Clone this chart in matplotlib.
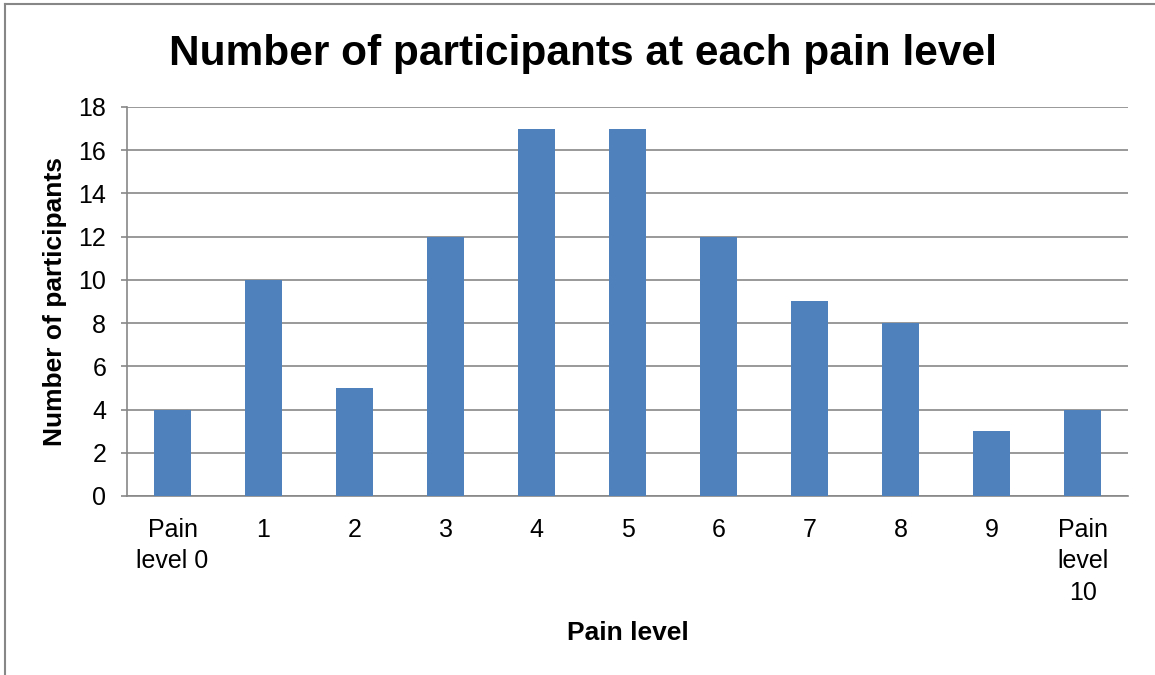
import numpy as np
import matplotlib.pyplot as plt
from matplotlib.lines import Line2D

plt.rcParams['font.family'] = ['Liberation Sans', 'DejaVu Sans']

# data
categories = ['Pain\nlevel 0', '1', '2', '3', '4', '5', '6', '7', '8', '9', 'Pain\nlevel\n10']
counts = [4, 10, 5, 12, 17, 17, 12, 9, 8, 3, 4]
yticks = [0, 2, 4, 6, 8, 10, 12, 14, 16, 18]

fig = plt.figure(figsize=(11.55, 6.75), dpi=100)
ax = fig.add_axes([0.110, 0.2652, 0.8667, 0.5763])

x = np.arange(len(categories))
ax.bar(x, counts, width=0.4, color='#4F81BD', zorder=3)

ax.set_xlim(-0.5, len(categories) - 0.5)
ax.set_ylim(0, 18)
ax.set_yticks(yticks)
ax.set_xticks(x)
ax.set_xticklabels(categories, fontsize=18, linespacing=1.38, va='top')
ax.tick_params(axis='y', labelsize=18, length=4, color='#878787', width=1.2, pad=11)
ax.tick_params(axis='x', length=0, pad=16)
ax.grid(axis='y', color='#878787', linewidth=1.2, zorder=0)

for s in ['top', 'right']:
    ax.spines[s].set_visible(False)
for s in ['left', 'bottom']:
    ax.spines[s].set_color('#878787')
    ax.spines[s].set_linewidth(1.2)

ax.set_title('Number of participants at each pain level', fontsize=30.5,
             fontweight='bold', pad=30, x=0.455)
ax.set_xlabel('Pain level', fontsize=19, fontweight='bold', labelpad=12)
ax.set_ylabel('Number of participants', fontsize=19, fontweight='bold', labelpad=8)

# outer chart border (left and top visible)
fig.add_artist(Line2D([0.004, 0.004], [0.0, 0.994], color='#878787', lw=1.5))
fig.add_artist(Line2D([0.004, 1.0], [0.994, 0.994], color='#878787', lw=1.5))

fig.savefig('out.png', dpi=100)
